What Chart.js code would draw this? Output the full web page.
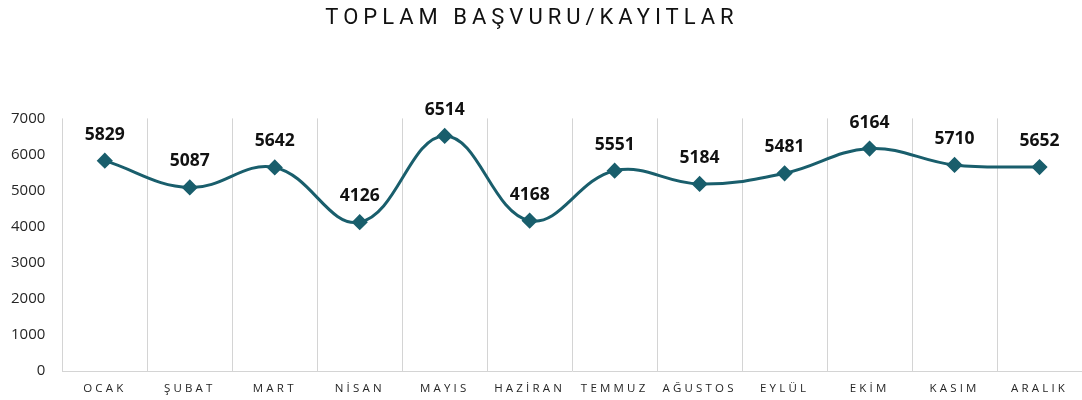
<!DOCTYPE html>
<html>
<head>
<meta charset="utf-8">
<script src="https://cdn.jsdelivr.net/npm/chart.js@4"></script>
<style>
html,body{margin:0;padding:0;background:#fff;}
#wrap{width:1082px;height:400px;}
</style>
</head>
<body>
<div id="wrap"><canvas id="c" width="1082" height="400"></canvas></div>
<script>
const chartTitle = 'TOPLAM BAŞVURU/KAYITLAR';
const months = ['OCAK','ŞUBAT','MART','NİSAN','MAYIS','HAZİRAN','TEMMUZ','AĞUSTOS','EYLÜL','EKİM','KASIM','ARALIK'];
const applications = [5829, 5087, 5642, 4126, 6514, 4168, 5551, 5184, 5481, 6164, 5710, 5652];
const yTicks = [0, 1000, 2000, 3000, 4000, 5000, 6000, 7000];

const lineColor = '#195e6c';

const spacingPlugin = {
  id: 'spacing',
  beforeDraw(chart) {
    const x = chart.scales.x;
    if (x && !x._lsWrapped) {
      const orig = x.drawLabels;
      x.drawLabels = function(a) {
        const c = this.ctx; c.save(); c.letterSpacing = '3.2px'; orig.call(this, a); c.restore();
      };
      x._lsWrapped = true;
    }
    const t = chart.titleBlock;
    if (t && !t._lsWrapped) {
      const origT = t.draw;
      t.draw = function(a) {
        const c = this.ctx; c.save(); c.letterSpacing = '5px'; c.translate(-6, 0); origT.call(this, a); c.restore();
      };
      t._lsWrapped = true;
    }
  }
};

const valueLabels = {
  id: 'valueLabels',
  afterDatasetsDraw(chart) {
    const ctx = chart.ctx;
    const meta = chart.getDatasetMeta(0);
    ctx.save();
    ctx.font = '700 17.5px "Open Sans"';
    ctx.fillStyle = '#111';
    ctx.textAlign = 'center';
    ctx.textBaseline = 'middle';
    meta.data.forEach((pt, i) => {
      ctx.fillText(String(chart.data.datasets[0].data[i]), pt.x, pt.y - 26);
    });
    ctx.restore();
  }
};

new Chart(document.getElementById('c'), {
  type: 'line',
  data: {
    labels: months,
    datasets: [{
      data: applications,
      borderColor: lineColor,
      backgroundColor: lineColor,
      borderWidth: 3,
      tension: 0.4,
      pointStyle: 'rectRot',
      pointRadius: 6,
      pointHoverRadius: 6,
      pointBackgroundColor: lineColor,
      pointBorderColor: lineColor,
      fill: false
    }]
  },
  options: {
    responsive: false,
    animation: false,
    devicePixelRatio: 1,
    layout: { autoPadding: false, padding: { left: -6, right: 0, top: 0, bottom: -7 } },
    plugins: {
      legend: { display: false },
      tooltip: { enabled: false },
      title: {
        display: true,
        text: chartTitle,
        color: '#111',
        font: { family: 'Roboto', size: 22, weight: '400' },
        padding: { top: 5, bottom: 87 }
      }
    },
    scales: {
      x: {
        offset: true,
        afterFit(scale) { scale.paddingLeft = 0; scale.paddingRight = 0; },
        grid: { display: true, offset: true, color: '#d4d4d4', lineWidth: 1, drawTicks: false },
        border: { display: true, color: '#d4d4d4' },
        ticks: {
          color: '#262626',
          font: { family: 'Open Sans', size: 11.5 },
          padding: 11,
          autoSkip: false,
          maxRotation: 0
        }
      },
      y: {
        min: 0,
        max: 7000,
        afterBuildTicks(scale) { scale.ticks = yTicks.map(v => ({ value: v })); },
        grid: { display: false, drawTicks: false },
        border: { display: false },
        ticks: {
          color: '#262626',
          font: { family: 'Open Sans', size: 15 },
          padding: 17,
          callback: (v) => String(v)
        }
      }
    }
  },
  plugins: [spacingPlugin, valueLabels]
});
</script>
</body>
</html>
